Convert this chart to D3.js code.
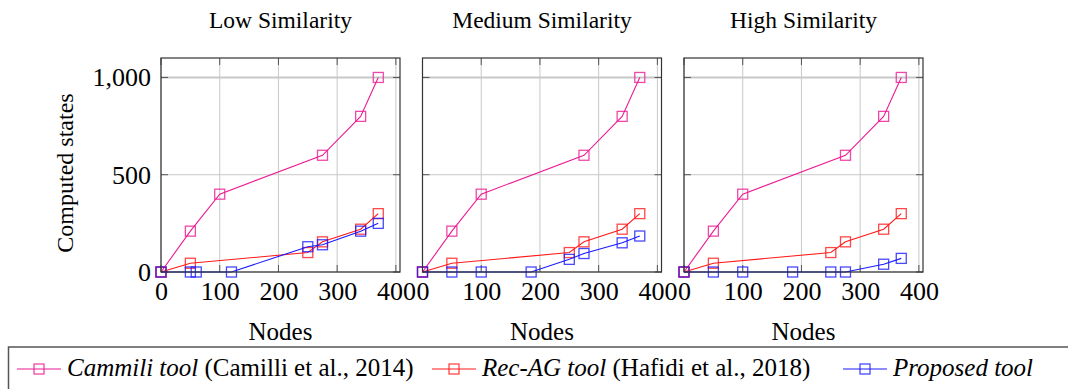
<!DOCTYPE html>
<html>
<head>
<meta charset="utf-8">
<script src="https://cdn.jsdelivr.net/npm/d3@7"></script>
<style>
  html, body { margin: 0; padding: 0; background: #fff; }
  svg { display: block; }
  svg text { font-family: "Liberation Serif", "Times New Roman", Times, "DejaVu Serif", serif; }
</style>
</head>
<body>
<div id="chart"></div>
<script>
// three small panels, computed states vs nodes, one shared legend at the bottom

const PINK = "#ec1a93";
const RED = "#ff1a1a";
const BLUE = "#1a1aff";
const SERIF = '"Liberation Serif", "Times New Roman", Times, "DejaVu Serif", serif';

const panelTitles = ["Low Similarity", "Medium Similarity", "High Similarity"];
const xTicks = [0, 100, 200, 300, 400];
const yTicks = [0, 500, 1000];

// Cammili tool, same in every panel
const cammiliNodes = [0, 50, 100, 275, 340, 370];
const cammiliStates = [0, 210, 400, 600, 800, 1000];

// Rec-AG tool, same in every panel
const recagNodes = [0, 50, 250, 275, 340, 370];
const recagStates = [0, 45, 100, 155, 220, 300];

// Proposed tool, one list per panel
const propNodesLow = [0, 50, 60, 120, 250, 275, 340, 370];
const propStatesLow = [0, 0, 0, 0, 130, 140, 210, 250];
const propNodesMed = [0, 50, 100, 185, 250, 275, 340, 370];
const propStatesMed = [0, 0, 0, 0, 65, 95, 150, 185];
const propNodesHigh = [0, 50, 100, 185, 250, 275, 340, 370];
const propStatesHigh = [0, 0, 0, 0, 0, 0, 40, 70];

const legendItems = [
  { color: PINK, name: "Cammili tool", cite: " (Camilli et al., 2014)" },
  { color: RED, name: "Rec-AG tool", cite: " (Hafidi et al., 2018)" },
  { color: BLUE, name: "Proposed tool", cite: "" }
];

function zip(xs, ys){
  return xs.map((x, i) => ({ x, y: ys[i] }));
}

const panelSeries = [
  [zip(cammiliNodes, cammiliStates), zip(recagNodes, recagStates), zip(propNodesLow, propStatesLow)],
  [zip(cammiliNodes, cammiliStates), zip(recagNodes, recagStates), zip(propNodesMed, propStatesMed)],
  [zip(cammiliNodes, cammiliStates), zip(recagNodes, recagStates), zip(propNodesHigh, propStatesHigh)]
];
const seriesColors = [PINK, RED, BLUE];

const W = 1068, H = 389;
const plotW = 239, plotH = 214;
const plotTop = 58;
const plotLefts = [161, 422.5, 684];
const legendLefts = [17, 432, 843];

const svg = d3.select("#chart").append("svg")
  .attr("width", W)
  .attr("height", H);

const x = d3.scaleLinear().domain([0, 407]).range([0, plotW]);
const y = d3.scaleLinear().domain([0, 1100]).range([plotH, 0]);

const line = d3.line().x(d => x(d.x)).y(d => y(d.y));
const MS = 10; // marker size

panelTitles.forEach((title, i) => {
  const g = svg.append("g").attr("transform", `translate(${plotLefts[i]},${plotTop})`);

  // grid
  g.append("g").selectAll("line.gx").data(xTicks).enter().append("line")
    .attr("x1", d => x(d)).attr("x2", d => x(d))
    .attr("y1", 0).attr("y2", plotH)
    .attr("stroke", "#c8c8c8").attr("stroke-width", 1);
  g.append("g").selectAll("line.gy").data(yTicks).enter().append("line")
    .attr("x1", 0).attr("x2", plotW)
    .attr("y1", d => y(d)).attr("y2", d => y(d))
    .attr("stroke", "#c8c8c8").attr("stroke-width", d => d === 1000 ? 2 : 1);

  // inward ticks on all four sides
  const tk = 7;
  const ticks = g.append("g").attr("stroke", "#555").attr("stroke-width", 1);
  xTicks.forEach(t => {
    ticks.append("line").attr("x1", x(t)).attr("x2", x(t)).attr("y1", plotH).attr("y2", plotH - tk);
    ticks.append("line").attr("x1", x(t)).attr("x2", x(t)).attr("y1", 0).attr("y2", tk);
  });
  yTicks.forEach(t => {
    ticks.append("line").attr("x1", 0).attr("x2", tk).attr("y1", y(t)).attr("y2", y(t));
    ticks.append("line").attr("x1", plotW - tk).attr("x2", plotW).attr("y1", y(t)).attr("y2", y(t));
  });

  // bottom axis labels through d3 axis, no domain/tick lines
  const xAxis = g.append("g").attr("transform", `translate(0,${plotH})`)
    .call(d3.axisBottom(x).tickValues(xTicks).tickSize(0).tickPadding(10).tickFormat(d3.format("d")));
  xAxis.attr("font-family", SERIF);
  xAxis.select(".domain").remove();
  xAxis.selectAll("text").attr("font-size", 26).attr("fill", "#000");

  if (i === 0){
    const yAxis = g.append("g")
      .call(d3.axisLeft(y).tickValues(yTicks).tickSize(0).tickPadding(10).tickFormat(d3.format(",")));
    yAxis.attr("font-family", SERIF);
    yAxis.select(".domain").remove();
    yAxis.selectAll("text").attr("font-size", 26).attr("fill", "#000");

    svg.append("text")
      .attr("transform", `translate(73,${plotTop + plotH / 2 + 8}) rotate(-90)`)
      .attr("text-anchor", "middle")
      .attr("font-size", 24)
      .text("Computed states");
  }

  // series
  panelSeries[i].forEach((data, s) => {
    g.append("path").datum(data)
      .attr("d", line)
      .attr("fill", "none")
      .attr("stroke", seriesColors[s])
      .attr("stroke-width", 1.1);
    g.append("g").selectAll("rect").data(data).enter().append("rect")
      .attr("x", d => x(d.x) - MS / 2)
      .attr("y", d => y(d.y) - MS / 2)
      .attr("width", MS).attr("height", MS)
      .attr("fill", "none")
      .attr("stroke", seriesColors[s])
      .attr("stroke-opacity", 0.8)
      .attr("stroke-width", 1.3);
  });

  // frame
  g.append("rect")
    .attr("width", plotW).attr("height", plotH)
    .attr("fill", "none").attr("stroke", "#333").attr("stroke-width", 1.2);

  // title and x label
  svg.append("text")
    .attr("x", plotLefts[i] + plotW / 2).attr("y", 27.5)
    .attr("text-anchor", "middle").attr("font-size", 23.5)
    .text(title);
  svg.append("text")
    .attr("x", plotLefts[i] + plotW / 2).attr("y", 340)
    .attr("text-anchor", "middle").attr("font-size", 25)
    .text("Nodes");
});

// legend
const lg = svg.append("g");
lg.append("rect")
  .attr("x", 8.5).attr("y", 347).attr("width", 1080).attr("height", 60)
  .attr("fill", "#fff").attr("stroke", "#555").attr("stroke-width", 1.5);

const ly = 369;
legendItems.forEach((item, k) => {
  const lx = legendLefts[k];
  lg.append("line")
    .attr("x1", lx).attr("x2", lx + 44).attr("y1", ly).attr("y2", ly)
    .attr("stroke", item.color).attr("stroke-width", 1.1);
  lg.append("rect")
    .attr("x", lx + 22 - 5).attr("y", ly - 5).attr("width", 10).attr("height", 10)
    .attr("fill", "none").attr("stroke", item.color).attr("stroke-opacity", 0.8).attr("stroke-width", 1.3);
  const t = lg.append("text")
    .attr("x", lx + 50).attr("y", 375.5)
    .attr("font-size", 25);
  t.append("tspan").attr("font-style", "italic").text(item.name);
  t.append("tspan").text(item.cite);
});
</script>
</body>
</html>
